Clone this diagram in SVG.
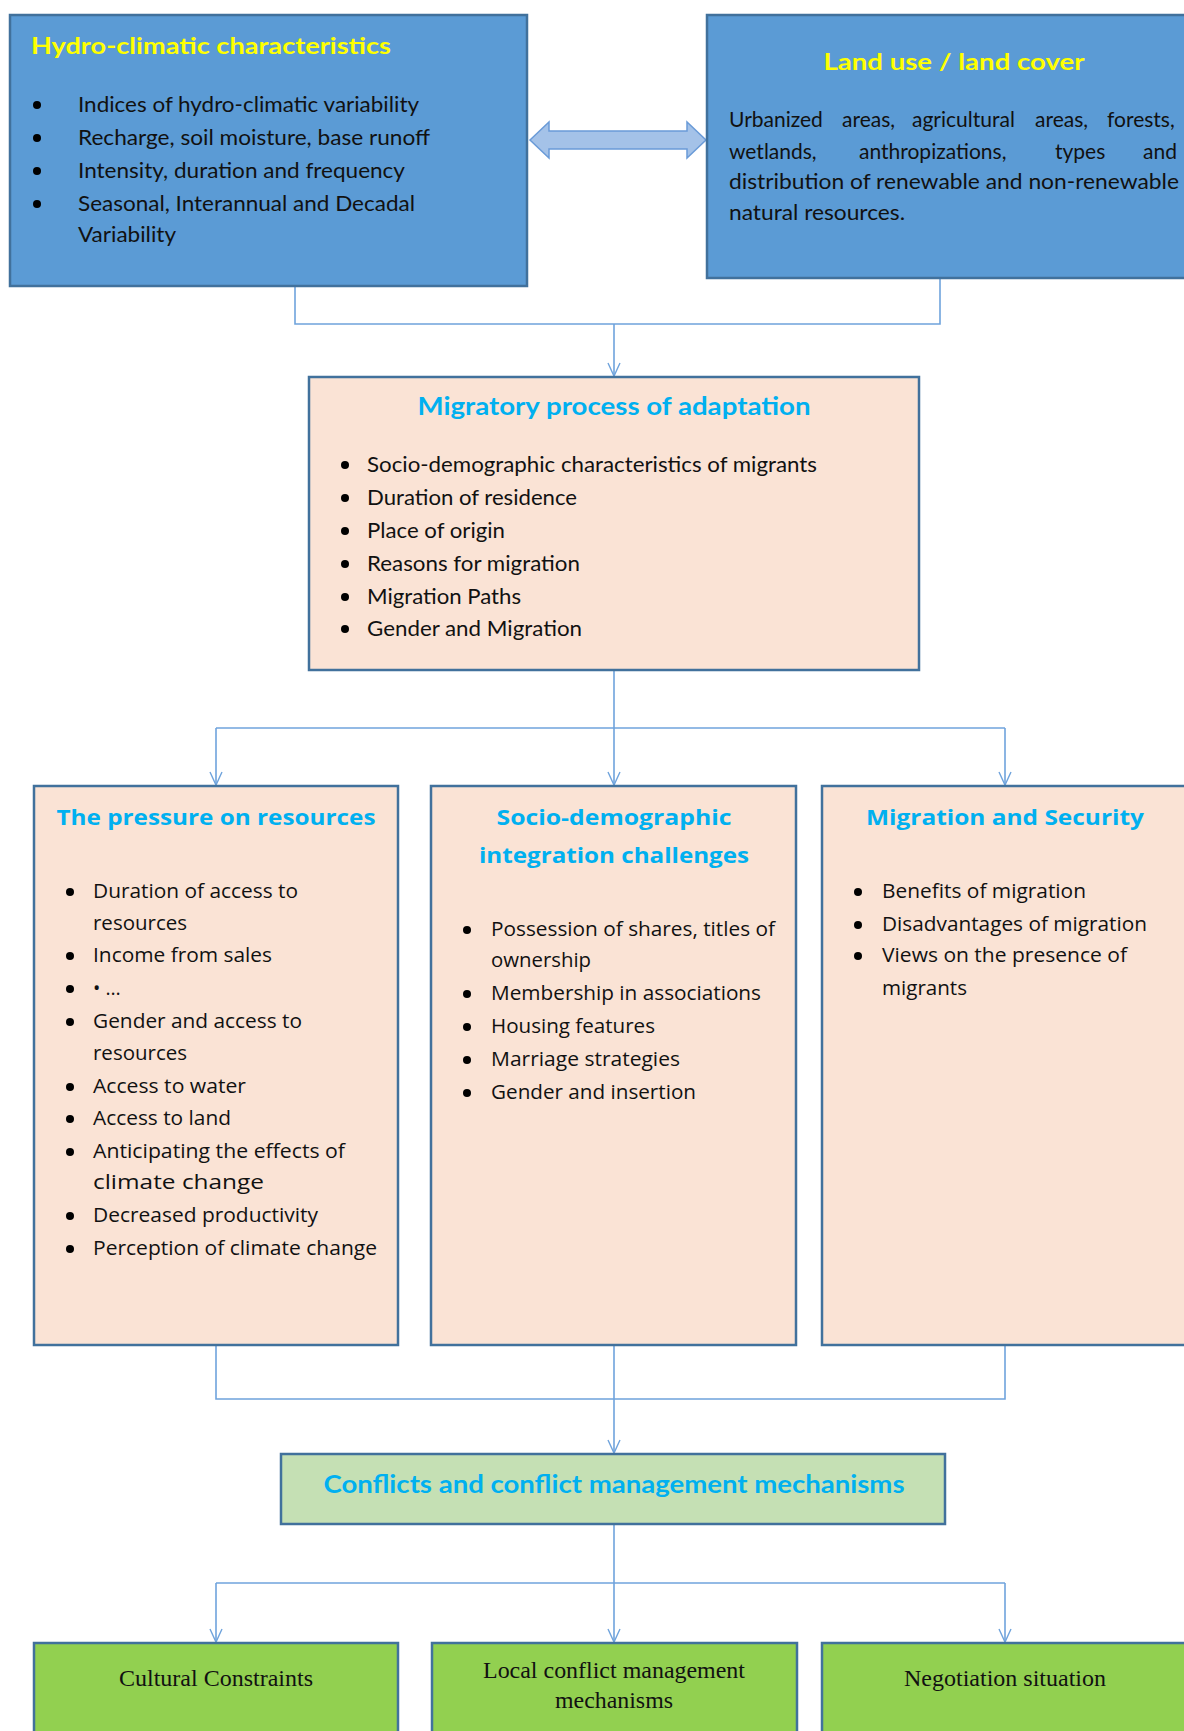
<svg xmlns="http://www.w3.org/2000/svg" width="1184" height="1731" viewBox="0 0 1184 1731">
<style>
.blue{fill:#5B9BD5;stroke:#41719C;stroke-width:2.5}
.peach{fill:#FAE3D5;stroke:#41719C;stroke-width:2.5}
.lgreen{fill:#C5E0B4;stroke:#41719C;stroke-width:2.5}
.green{fill:#92D050;stroke:#41719C;stroke-width:2.5}
.ytitle{font-family:Lato,"Liberation Sans",sans-serif;font-weight:bold;font-size:23px;fill:#FFFF00}
.ctitle{font-family:Lato,"Liberation Sans",sans-serif;font-weight:bold;font-size:24px;fill:#00B0F0}
.wtitle{font-family:"Open Sans","Liberation Sans",sans-serif;font-weight:bold;font-size:22px;fill:#00B0F0}
.body{font-family:Lato,"Liberation Sans",sans-serif;font-size:21px;fill:#111}
.wbody{font-family:"Open Sans","Liberation Sans",sans-serif;font-size:19.5px;fill:#111}
.serif{font-family:"Liberation Serif","Times New Roman",serif;font-size:24px;fill:#111}
.conn{fill:none;stroke:#6FA3DC;stroke-width:1.6}
</style>
<defs>
<marker id="v" markerWidth="16" markerHeight="14" refX="14" refY="7" orient="auto" markerUnits="userSpaceOnUse">
<path d="M1,1 L14,7 L1,13" fill="none" stroke="#6FA3DC" stroke-width="1.4"/>
</marker>
</defs>

<g id="connectors">
<polygon points="530,140 549,122 549,131 687,131 687,122 706,140 687,158 687,149 549,149 549,158" fill="#A4C2E8" stroke="#6A9BD8" stroke-width="1.5"/>
<path class="conn" d="M295,286 V324 H940 V278"/>
<path class="conn" d="M614,324 V376" marker-end="url(#v)"/>
<path class="conn" d="M614,670 V728"/>
<path class="conn" d="M216,728 H1005"/>
<path class="conn" d="M216,728 V785" marker-end="url(#v)"/>
<path class="conn" d="M614,728 V785" marker-end="url(#v)"/>
<path class="conn" d="M1005,728 V785" marker-end="url(#v)"/>
<path class="conn" d="M216,1345 V1399 H1005 V1345"/>
<path class="conn" d="M614,1345 V1453" marker-end="url(#v)"/>
<path class="conn" d="M614,1524 V1583"/>
<path class="conn" d="M216,1583 H1005"/>
<path class="conn" d="M216,1583 V1642" marker-end="url(#v)"/>
<path class="conn" d="M614,1583 V1642" marker-end="url(#v)"/>
<path class="conn" d="M1005,1583 V1642" marker-end="url(#v)"/>
</g>

<g id="hydro">
<rect class="blue" x="10" y="15" width="517" height="271"/>
<text class="ytitle" x="31" y="54" textLength="360" lengthAdjust="spacingAndGlyphs">Hydro-climatic characteristics</text>
<g fill="#000">
<circle cx="37" cy="105" r="4"/><circle cx="37" cy="138" r="4"/><circle cx="37" cy="171" r="4"/><circle cx="37" cy="204" r="4"/>
</g>
<text class="body" x="78" y="112" textLength="341" lengthAdjust="spacingAndGlyphs">Indices of hydro-climatic variability</text>
<text class="body" x="78" y="145" textLength="352" lengthAdjust="spacingAndGlyphs">Recharge, soil moisture, base runoff</text>
<text class="body" x="78" y="178" textLength="327" lengthAdjust="spacingAndGlyphs">Intensity, duration and frequency</text>
<text class="body" x="78" y="211" textLength="337" lengthAdjust="spacingAndGlyphs">Seasonal, Interannual and Decadal</text>
<text class="body" x="78" y="242" textLength="98" lengthAdjust="spacingAndGlyphs">Variability</text>
</g>

<g id="landuse">
<rect class="blue" x="707" y="15" width="490" height="263"/>
<text class="ytitle" x="954" y="70" text-anchor="middle" textLength="261" lengthAdjust="spacingAndGlyphs">Land use / land cover</text>
<text class="body" y="127"><tspan x="729">Urbanized</tspan><tspan x="842">areas,</tspan><tspan x="912">agricultural</tspan><tspan x="1035">areas,</tspan><tspan x="1107">forests,</tspan></text>
<text class="body" y="159"><tspan x="729">wetlands,</tspan><tspan x="859">anthropizations,</tspan><tspan x="1055">types</tspan><tspan x="1143">and</tspan></text>
<text class="body" x="729" y="189" textLength="450" lengthAdjust="spacingAndGlyphs">distribution of renewable and non-renewable</text>
<text class="body" x="729" y="220" textLength="176" lengthAdjust="spacingAndGlyphs">natural resources.</text>
</g>

<g id="migratory">
<rect class="peach" x="309" y="377" width="610" height="293"/>
<text class="ctitle" x="614" y="415" text-anchor="middle" textLength="393" lengthAdjust="spacingAndGlyphs">Migratory process of adaptation</text>
<g fill="#000">
<circle cx="345" cy="465" r="4"/><circle cx="345" cy="498" r="4"/><circle cx="345" cy="531" r="4"/><circle cx="345" cy="564" r="4"/><circle cx="345" cy="597" r="4"/><circle cx="345" cy="629" r="4"/>
</g>
<text class="body" x="367" y="472" textLength="450" lengthAdjust="spacingAndGlyphs">Socio-demographic characteristics of migrants</text>
<text class="body" x="367" y="505" textLength="210" lengthAdjust="spacingAndGlyphs">Duration of residence</text>
<text class="body" x="367" y="538" textLength="138" lengthAdjust="spacingAndGlyphs">Place of origin</text>
<text class="body" x="367" y="571" textLength="213" lengthAdjust="spacingAndGlyphs">Reasons for migration</text>
<text class="body" x="367" y="604" textLength="154" lengthAdjust="spacingAndGlyphs">Migration Paths</text>
<text class="body" x="367" y="636" textLength="215" lengthAdjust="spacingAndGlyphs">Gender and Migration</text>
</g>

<g id="pressure">
<rect class="peach" x="34" y="786" width="364" height="559"/>
<text class="wtitle" x="216" y="825" text-anchor="middle" textLength="319" lengthAdjust="spacingAndGlyphs">The pressure on resources</text>
<g fill="#000">
<circle cx="70" cy="892" r="4"/><circle cx="70" cy="956" r="4"/><circle cx="70" cy="989" r="4"/><circle cx="70" cy="1022" r="4"/><circle cx="70" cy="1087" r="4"/><circle cx="70" cy="1119" r="4"/><circle cx="70" cy="1152" r="4"/><circle cx="70" cy="1216" r="4"/><circle cx="70" cy="1249" r="4"/>
</g>
<text class="wbody" x="93" y="898" textLength="205" lengthAdjust="spacingAndGlyphs">Duration of access to</text>
<text class="wbody" x="93" y="930" textLength="94" lengthAdjust="spacingAndGlyphs">resources</text>
<text class="wbody" x="93" y="962" textLength="179" lengthAdjust="spacingAndGlyphs">Income from sales</text>
<text class="wbody" x="93" y="995">• …</text>
<text class="wbody" x="93" y="1028" textLength="209" lengthAdjust="spacingAndGlyphs">Gender and access to</text>
<text class="wbody" x="93" y="1060" textLength="94" lengthAdjust="spacingAndGlyphs">resources</text>
<text class="wbody" x="93" y="1093" textLength="153" lengthAdjust="spacingAndGlyphs">Access to water</text>
<text class="wbody" x="93" y="1125" textLength="138" lengthAdjust="spacingAndGlyphs">Access to land</text>
<text class="wbody" x="93" y="1158" textLength="252" lengthAdjust="spacingAndGlyphs">Anticipating the effects of</text>
<text class="wbody" x="93" y="1189" textLength="171" lengthAdjust="spacingAndGlyphs">climate change</text>
<text class="wbody" x="93" y="1222" textLength="225" lengthAdjust="spacingAndGlyphs">Decreased productivity</text>
<text class="wbody" x="93" y="1255" textLength="284" lengthAdjust="spacingAndGlyphs">Perception of climate change</text>
</g>

<g id="socio">
<rect class="peach" x="431" y="786" width="365" height="559"/>
<text class="wtitle" x="614" y="825" text-anchor="middle" textLength="235" lengthAdjust="spacingAndGlyphs">Socio-demographic</text>
<text class="wtitle" x="614" y="863" text-anchor="middle" textLength="270" lengthAdjust="spacingAndGlyphs">integration challenges</text>
<g fill="#000">
<circle cx="467" cy="930" r="4"/><circle cx="467" cy="994" r="4"/><circle cx="467" cy="1027" r="4"/><circle cx="467" cy="1060" r="4"/><circle cx="467" cy="1093" r="4"/>
</g>
<text class="wbody" x="491" y="936" textLength="284" lengthAdjust="spacingAndGlyphs">Possession of shares, titles of</text>
<text class="wbody" x="491" y="967" textLength="100" lengthAdjust="spacingAndGlyphs">ownership</text>
<text class="wbody" x="491" y="1000" textLength="270" lengthAdjust="spacingAndGlyphs">Membership in associations</text>
<text class="wbody" x="491" y="1033" textLength="164" lengthAdjust="spacingAndGlyphs">Housing features</text>
<text class="wbody" x="491" y="1066" textLength="189" lengthAdjust="spacingAndGlyphs">Marriage strategies</text>
<text class="wbody" x="491" y="1099" textLength="205" lengthAdjust="spacingAndGlyphs">Gender and insertion</text>
</g>

<g id="security">
<rect class="peach" x="822" y="786" width="375" height="559"/>
<text class="wtitle" x="1005" y="825" text-anchor="middle" textLength="278" lengthAdjust="spacingAndGlyphs">Migration and Security</text>
<g fill="#000">
<circle cx="858" cy="892" r="4"/><circle cx="858" cy="925" r="4"/><circle cx="858" cy="956" r="4"/>
</g>
<text class="wbody" x="882" y="898" textLength="204" lengthAdjust="spacingAndGlyphs">Benefits of migration</text>
<text class="wbody" x="882" y="931" textLength="265" lengthAdjust="spacingAndGlyphs">Disadvantages of migration</text>
<text class="wbody" x="882" y="962" textLength="245" lengthAdjust="spacingAndGlyphs">Views on the presence of</text>
<text class="wbody" x="882" y="995" textLength="85" lengthAdjust="spacingAndGlyphs">migrants</text>
</g>

<g id="conflicts">
<rect class="lgreen" x="281" y="1454" width="664" height="70"/>
<text class="ctitle" x="614" y="1493" text-anchor="middle" textLength="581" lengthAdjust="spacingAndGlyphs">Conflicts and conflict management mechanisms</text>
</g>

<g id="cultural">
<rect class="green" x="34" y="1643" width="364" height="100"/>
<text class="serif" x="216" y="1686" text-anchor="middle" textLength="194" lengthAdjust="spacingAndGlyphs">Cultural Constraints</text>
</g>
<g id="local">
<rect class="green" x="432" y="1643" width="365" height="100"/>
<text class="serif" x="614" y="1678" text-anchor="middle" textLength="262" lengthAdjust="spacingAndGlyphs">Local conflict management</text>
<text class="serif" x="614" y="1708" text-anchor="middle" textLength="118" lengthAdjust="spacingAndGlyphs">mechanisms</text>
</g>
<g id="negotiation">
<rect class="green" x="822" y="1643" width="375" height="100"/>
<text class="serif" x="1005" y="1686" text-anchor="middle" textLength="202" lengthAdjust="spacingAndGlyphs">Negotiation situation</text>
</g>
</svg>
